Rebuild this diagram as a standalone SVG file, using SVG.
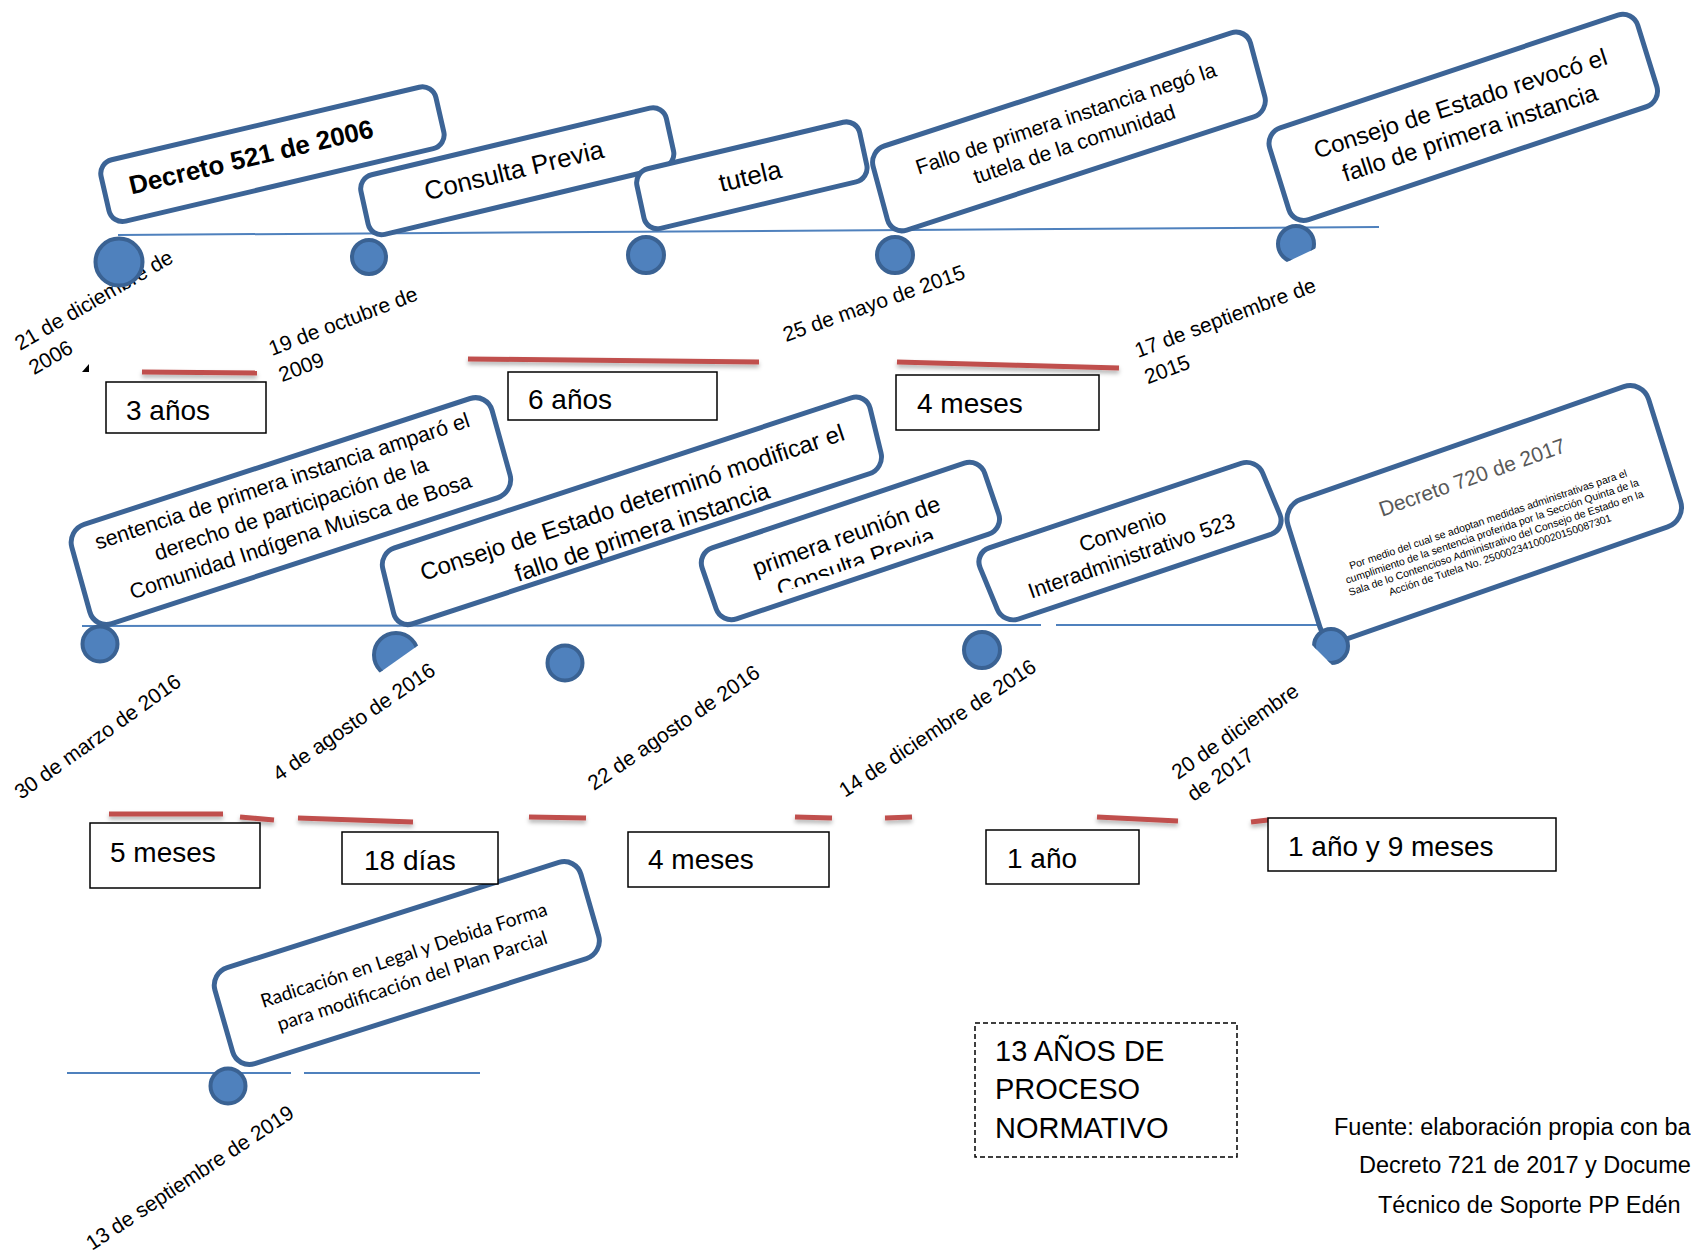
<svg xmlns="http://www.w3.org/2000/svg" width="1691" height="1254" viewBox="0 0 1691 1254">
<style>
.box{fill:#fff;stroke:#3c6496;stroke-width:5}
.dot{fill:#4f81bd;stroke:#3a6293;stroke-width:4}
.tl{stroke:#4f81bd;stroke-width:2;fill:none}
.red{stroke:#c0504d;stroke-width:5;fill:none}
.dur{fill:#fff;stroke:#000;stroke-width:1.5}
.t{font-family:'Liberation Sans',Arial,sans-serif;fill:#000}
.lato{font-family:Lato,'Open Sans',sans-serif;fill:#000}
</style>
<defs>
<filter id="sh" x="-10%" y="-200%" width="120%" height="500%">
<feDropShadow dx="0" dy="3" stdDeviation="2" flood-color="#000" flood-opacity="0.3"/>
</filter>
<clipPath id="c1cut"><polygon points="1270,215 1325,215 1325,244 1270,270"/></clipPath>
<clipPath id="c2cut"><polygon points="365,625 430,625 430,637 365,683"/></clipPath>
<clipPath id="c5cut"><polygon points="1305,620 1360,620 1360,693 1305,638"/></clipPath>
<clipPath id="prcut" clipPathUnits="userSpaceOnUse"><rect x="-200" y="-60" width="400" height="78"/></clipPath>
</defs>
<rect width="1691" height="1254" fill="#fff"/>

<g id="connectors">
<line class="tl" x1="118" y1="235" x2="1379" y2="227"/>
<line class="tl" x1="82" y1="626" x2="1041" y2="625"/>
<line class="tl" x1="1056" y1="625" x2="1365" y2="625"/>
<line class="tl" x1="67" y1="1073" x2="291" y2="1073"/>
<line class="tl" x1="304" y1="1073" x2="480" y2="1073"/>
</g>

<g id="duration-bars" filter="url(#sh)">
<line class="red" x1="142" y1="372" x2="257" y2="373"/>
<line class="red" x1="468" y1="359" x2="759" y2="362"/>
<line class="red" x1="897" y1="362" x2="1119" y2="368" stroke-width="6"/>
<line class="red" x1="109" y1="814" x2="223" y2="814"/>
<line class="red" x1="240" y1="817" x2="274" y2="820"/>
<line class="red" x1="298" y1="818" x2="413" y2="822"/>
<line class="red" x1="529" y1="817" x2="586" y2="818"/>
<line class="red" x1="795" y1="817" x2="832" y2="818"/>
<line class="red" x1="885" y1="818" x2="912" y2="817"/>
<line class="red" x1="1097" y1="817" x2="1178" y2="821"/>
<line class="red" x1="1251" y1="822" x2="1268" y2="820"/>
</g>
<polygon points="82,372 89,364 89,372" fill="#000"/>

<g id="dates" class="t" font-size="21">
<text transform="translate(20,351) rotate(-30)"><tspan x="0" y="0">21 de diciembre de</tspan><tspan x="0" y="28">2006</tspan></text>
<text transform="translate(272,356) rotate(-21)"><tspan x="0" y="0">19 de octubre de</tspan><tspan x="0" y="28">2009</tspan></text>
<text transform="translate(786,342) rotate(-19.5)">25 de mayo de 2015</text>
<text transform="translate(1138,358) rotate(-20.5)"><tspan x="0" y="0">17 de septiembre de</tspan><tspan x="0" y="28">2015</tspan></text>
<text transform="translate(21,800) rotate(-35.5)">30 de marzo de 2016</text>
<text transform="translate(279,782) rotate(-34.5)">4 de agosto de 2016</text>
<text transform="translate(594,791) rotate(-34.5)">22 de agosto de 2016</text>
<text transform="translate(845,798) rotate(-33.5)">14 de diciembre de 2016</text>
<text transform="translate(1178,780) rotate(-35)"><tspan x="0" y="0">20 de diciembre</tspan><tspan x="0" y="27">de 2017</tspan></text>
<text transform="translate(92,1251) rotate(-33.5)">13 de septiembre de 2019</text>
</g>

<g id="n-decreto521">
<rect class="box" x="0" y="0" width="344" height="63" rx="14" transform="matrix(0.9733,-0.2295,0.2237,0.9745,98,163)"/>
<text class="t" transform="translate(251,157) rotate(-13.3)" x="0" y="9" font-size="26" font-weight="bold" text-anchor="middle">Decreto 521 de 2006</text>
</g>
<g id="n-consulta">
<rect class="box" x="0" y="0" width="314" height="61" rx="14" transform="matrix(0.9726,-0.2328,0.2152,0.9768,358,178)"/>
<text class="t" transform="translate(514,170) rotate(-13.5)" x="0" y="9" font-size="26" text-anchor="middle">Consulta Previa</text>
</g>
<g id="n-tutela">
<rect class="box" x="0" y="0" width="229" height="61" rx="14" transform="matrix(0.9729,-0.2312,0.2117,0.9773,634,172)"/>
<text class="t" transform="translate(750,176) rotate(-13.4)" x="0" y="9" font-size="26" text-anchor="middle">tutela</text>
</g>
<g id="n-fallo">
<rect class="box" x="0" y="0" width="397" height="87" rx="16" transform="matrix(0.9506,-0.3101,0.2591,0.9658,869,151)"/>
<text class="t" transform="translate(1070,131) rotate(-18.3)" font-size="21" text-anchor="middle"><tspan x="0" y="-6">Fallo de primera instancia negó la</tspan><tspan x="0" y="21">tutela de la comunidad</tspan></text>
</g>
<g id="n-revoco">
<rect class="box" x="0" y="0" width="388" height="96" rx="16" transform="matrix(0.9485,-0.3170,0.2971,0.9549,1265,133)"/>
<text class="t" transform="translate(1465,118) rotate(-18)" font-size="24" text-anchor="middle"><tspan x="0" y="-7">Consejo de Estado revocó el</tspan><tspan x="0" y="24">fallo de primera instancia</tspan></text>
</g>
<g id="n-sentencia">
<rect class="box" x="0" y="0" width="442" height="103" rx="18" transform="matrix(0.9507,-0.3101,0.2681,0.9633,67,530)"/>
<text class="t" transform="translate(291,508) rotate(-18.3)" font-size="21.5" text-anchor="middle"><tspan x="0" y="-21">sentencia de primera instancia amparó el</tspan><tspan x="0" y="8">derecho de participación de la</tspan><tspan x="0" y="37">Comunidad Indígena Muisca de Bosa</tspan></text>
</g>
<g id="n-determino">
<rect class="box" x="0" y="0" width="513" height="78" rx="16" transform="matrix(0.9501,-0.3121,0.2362,0.9711,379,553)"/>
<text class="t" transform="translate(637,517) rotate(-18.5)" font-size="24" text-anchor="middle"><tspan x="0" y="-7">Consejo de Estado determinó modificar el</tspan><tspan x="0" y="24">fallo de primera instancia</tspan></text>
</g>
<g id="n-reunion">
<rect class="box" x="0" y="0" width="298" height="75" rx="16" transform="matrix(0.9481,-0.3183,0.3243,0.9459,697,553)"/>
<g transform="translate(851,549) rotate(-19.5)">
<text class="t" x="0" y="-6" font-size="23.5" text-anchor="middle">primera reunión de</text>
<text class="t" x="0" y="22" font-size="23.5" text-anchor="middle" clip-path="url(#prcut)">Consulta Previa</text>
</g>
</g>
<g id="n-convenio">
<rect class="box" x="0" y="0" width="298" height="77" rx="16" transform="matrix(0.9481,-0.3183,0.3826,0.9235,974,553)"/>
<text class="t" transform="translate(1127,543) rotate(-19.3)" font-size="21.5" text-anchor="middle"><tspan x="0" y="-6">Convenio</tspan><tspan x="0" y="21">Interadministrativo 523</tspan></text>
</g>
<g id="n-decreto720">
<rect class="box" x="0" y="0" width="382" height="147" rx="20" transform="matrix(0.9441,-0.3295,0.2986,0.9541,1282,506)"/>
<text class="t" transform="translate(1472,477) rotate(-19.4)" x="0" y="7.5" font-size="21" text-anchor="middle" style="fill:#595959">Decreto 720 de 2017</text>
<text class="t" transform="translate(1494,537) rotate(-18.6)" font-size="10.5" text-anchor="middle"><tspan x="0" y="-15">Por medio del cual se adoptan medidas administrativas para el</tspan><tspan x="0" y="-2.5">cumplimiento de la sentencia proferida por la Sección Quinta de la</tspan><tspan x="0" y="10">Sala de lo Contencioso Administrativo del Consejo de Estado en la</tspan><tspan x="0" y="22.5">Acción de Tutela No. 25000234100020150087301</tspan></text>
</g>
<g id="n-radicacion">
<rect class="box" x="0" y="0" width="384" height="100" rx="18" transform="matrix(0.9531,-0.3021,0.2761,0.9611,210,973)"/>
<text class="lato" transform="translate(408,968) rotate(-18.1)" font-size="19" text-anchor="middle"><tspan x="0" y="-7" textLength="300" lengthAdjust="spacingAndGlyphs">Radicación en Legal y Debida Forma</tspan><tspan x="0" y="20" textLength="283" lengthAdjust="spacingAndGlyphs">para modificación del Plan Parcial</tspan></text>
</g>

<g id="markers">
<circle class="dot" cx="119" cy="262" r="23.5"/>
<circle class="dot" cx="369" cy="257" r="17"/>
<circle class="dot" cx="646" cy="255" r="18"/>
<circle class="dot" cx="895" cy="255" r="18"/>
<circle class="dot" cx="1296" cy="244" r="18" clip-path="url(#c1cut)"/>
<circle class="dot" cx="100" cy="644" r="17.5"/>
<circle class="dot" cx="396" cy="655" r="22" clip-path="url(#c2cut)"/>
<circle class="dot" cx="565" cy="663" r="17.5"/>
<circle class="dot" cx="982" cy="650" r="18"/>
<circle class="dot" cx="1331" cy="646" r="17" clip-path="url(#c5cut)"/>
<circle class="dot" cx="228" cy="1086" r="17.5"/>
</g>

<g id="durations" class="t" font-size="28">
<rect class="dur" x="106" y="382" width="160" height="51"/><text x="126" y="420">3 años</text>
<rect class="dur" x="508" y="372" width="209" height="48"/><text x="528" y="409">6 años</text>
<rect class="dur" x="896" y="375" width="203" height="55"/><text x="917" y="413">4 meses</text>
<rect class="dur" x="90" y="823" width="170" height="65"/><text x="110" y="862">5 meses</text>
<rect class="dur" x="342" y="832" width="156" height="52"/><text x="364" y="870">18 días</text>
<rect class="dur" x="628" y="832" width="201" height="55"/><text x="648" y="869">4 meses</text>
<rect class="dur" x="986" y="830" width="153" height="54"/><text x="1007" y="868">1 año</text>
<rect class="dur" x="1268" y="818" width="288" height="53"/><text x="1288" y="856">1 año y 9 meses</text>
</g>

<g id="n-total">
<rect x="975" y="1023" width="262" height="134" fill="#fff" stroke="#000" stroke-width="1.5" stroke-dasharray="5,3"/>
<text class="t" font-size="29"><tspan x="995" y="1061">13 AÑOS DE</tspan><tspan x="995" y="1099">PROCESO</tspan><tspan x="995" y="1138">NORMATIVO</tspan></text>
</g>

<g id="source" class="t" font-size="23.5">
<text x="1334" y="1135">Fuente: elaboración propia con ba</text>
<text x="1359" y="1173">Decreto 721 de 2017 y Docume</text>
<text x="1378" y="1213">Técnico de Soporte PP Edén</text>
</g>
</svg>
